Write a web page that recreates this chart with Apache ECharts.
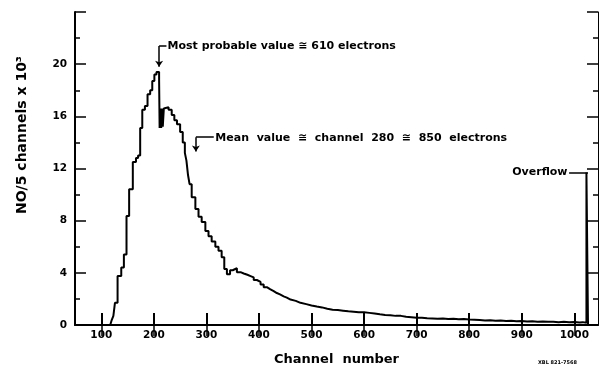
<!DOCTYPE html>
<html>
<head>
<meta charset="utf-8">
<script src="https://cdn.jsdelivr.net/npm/echarts@6/dist/echarts.min.js"></script>
<style>
  html, body { margin: 0; padding: 0; background: #fff; }
  #chart { width: 600px; height: 371px; }
</style>
</head>
<body>
<div id="chart"></div>
<script>
// bin start channel -> counts (NO/5 channels x 10^3)
const channels = [
  112, 117, 120, 123, 126, 131, 138, 143, 148, 153, 160, 166, 170, 174, 178, 183, 188, 193, 197, 201,
  205, 210, 211, 213, 214, 216, 217, 219, 222, 228, 234, 239, 244, 250, 255, 259, 262, 265, 268, 272,
  279, 285, 291, 298, 304, 310, 317, 323, 329, 334, 339, 345, 350, 358, 365, 371, 378, 384, 390, 396,
  403, 409, 415, 421, 428, 434, 440, 447, 453, 460, 470, 479, 490, 500, 510, 520, 530, 540, 550, 560,
  570, 580, 590, 600, 610, 620, 630, 640, 650, 660, 670, 680, 690, 700, 710, 720, 730, 740, 750, 760,
  770, 780, 790, 800, 810, 820, 830, 840, 850, 860, 870, 880, 890, 900, 910, 920, 930, 940, 950, 960,
  970, 980, 990, 1000, 1010, 1016, 1023, 1026, 1045
];
const counts = [
  0, 0.15, 0.4, 0.7, 1.7, 3.75, 4.4, 5.4, 8.35, 10.4, 12.5, 12.8, 13.0, 15.1, 16.5, 16.8, 17.7, 18.0, 18.7, 19.2,
  19.4, 18.8, 15.1, 16.6, 15.1, 16.6, 15.2, 16.6, 16.7, 16.5, 16.1, 15.7, 15.4, 14.8, 14.0, 13.2, 12.6, 11.5, 10.8, 9.8,
  8.9, 8.3, 7.9, 7.2, 6.8, 6.4, 6.0, 5.7, 5.2, 4.3, 3.9, 4.2, 4.35, 4.05, 3.95, 3.85, 3.75, 3.65, 3.45, 3.3,
  3.1, 2.9, 2.75, 2.6, 2.45, 2.35, 2.2, 2.1, 1.95, 1.85, 1.7, 1.6, 1.5, 1.42, 1.35, 1.25, 1.17, 1.15, 1.1, 1.05,
  1.02, 0.98, 0.98, 0.93, 0.88, 0.82, 0.77, 0.74, 0.7, 0.7, 0.64, 0.6, 0.55, 0.55, 0.52, 0.5, 0.48, 0.5, 0.46, 0.47,
  0.44, 0.46, 0.42, 0.4, 0.38, 0.35, 0.36, 0.33, 0.34, 0.3, 0.32, 0.29, 0.3, 0.27, 0.28, 0.25, 0.26, 0.24, 0.25, 0.22,
  0.24, 0.21, 0.23, 0.2, 0.22, 0.18, 11.7, 0, 0
];
const xTicks = [100, 200, 300, 400, 500, 600, 700, 800, 900, 1000];
const yLabels = [0, 4, 8, 12, 16, 20];

const mostProbable = { channel: 210, text: "Most probable value \u2245 610 electrons" };
const meanValue = { channel: 280, text: "Mean  value  \u2245  channel  280  \u2245  850  electrons" };
const overflow = { channel: 1024, level: 11.7, text: "Overflow" };

const font = "DejaVu Sans";
const ink = "#000";

const chart = echarts.init(document.getElementById("chart"));

const xBase = {
  type: "value",
  min: 50,
  max: 1045,
  splitLine: { show: false },
};
const yBase = {
  type: "value",
  min: 0,
  max: 24,
  interval: 4,
  splitLine: { show: false },
  minorTick: { show: true, splitNumber: 2, length: 5, lineStyle: { color: ink, width: 1.5 } },
};

chart.setOption({
  animation: false,
  grid: { left: 75, right: 2, top: 12, bottom: 45 },
  xAxis: [
    {
      ...xBase,
      position: "bottom",
      name: "Channel  number",
      nameLocation: "middle",
      nameGap: 28,
      nameTextStyle: { color: ink, fontFamily: font, fontWeight: "bold", fontSize: 13 },
      axisLine: { lineStyle: { color: ink, width: 2 } },
      axisTick: { inside: true, length: 12, customValues: xTicks, lineStyle: { color: ink, width: 2 } },
      axisLabel: {
        customValues: xTicks,
        formatter: (v) => String(v),
        margin: 5,
        color: ink,
        fontFamily: font,
        fontWeight: "bold",
        fontSize: 10.5,
      },
    },
    {
      ...xBase,
      position: "top",
      axisLine: { lineStyle: { color: ink, width: 1.5 } },
      axisTick: { inside: true, length: 11, customValues: xTicks, lineStyle: { color: ink, width: 1.5 } },
      axisLabel: { show: false },
    },
  ],
  yAxis: [
    {
      ...yBase,
      position: "left",
      axisLine: { lineStyle: { color: ink, width: 2 } },
      axisTick: { inside: true, length: 11, lineStyle: { color: ink, width: 1.5 } },
      axisLabel: {
        customValues: yLabels,
        formatter: (v) => String(v),
        margin: 8,
        color: ink,
        fontFamily: font,
        fontWeight: "bold",
        fontSize: 10.5,
      },
    },
    {
      ...yBase,
      position: "right",
      axisLine: { lineStyle: { color: ink, width: 1 } },
      axisTick: { inside: true, length: 11, lineStyle: { color: ink, width: 1.5 } },
      axisLabel: { show: false },
    },
  ],
  graphic: [
    {
      type: "text",
      x: 22,
      y: 135,
      rotation: Math.PI / 2,
      style: {
        text: "NO/5 channels x 10\u00b3",
        fill: ink,
        font: "bold 14px " + font,
        align: "center",
        verticalAlign: "middle",
      },
    },
    {
      type: "text",
      x: 538,
      y: 363,
      style: { text: "XBL 821-7568", fill: ink, font: "bold 5px " + font, verticalAlign: "middle" },
    },
  ],
  series: [
    {
      type: "line",
      step: "end",
      showSymbol: false,
      symbol: "none",
      silent: true,
      lineStyle: { color: ink, width: 2 },
      data: channels.map((c, i) => [c, counts[i]]),
      markLine: {
        silent: true,
        symbol: ["none", "none"],
        symbolSize: 6,
        label: { show: false },
        lineStyle: { color: ink, width: 1.5, type: "solid" },
        data: [
          [{ coord: [mostProbable.channel, 21.4] }, { coord: [mostProbable.channel + 14, 21.4] }],
          [{ coord: [mostProbable.channel, 21.4] }, { coord: [mostProbable.channel, 19.8], symbol: "arrow" }],
          [{ coord: [meanValue.channel, 14.4] }, { coord: [meanValue.channel + 34, 14.4] }],
          [{ coord: [meanValue.channel, 14.4] }, { coord: [meanValue.channel, 13.3], symbol: "arrow" }],
          [{ coord: [990, overflow.level] }, { coord: [overflow.channel + 2, overflow.level] }],
        ],
      },
      markPoint: {
        silent: true,
        symbol: "circle",
        symbolSize: 0,
        label: {
          show: true,
          color: ink,
          fontFamily: font,
          fontWeight: "bold",
          fontSize: 11,
          distance: 0,
        },
        data: [
          { coord: [mostProbable.channel + 16, 21.4], label: { position: "right", formatter: mostProbable.text } },
          { coord: [meanValue.channel + 37, 14.3], label: { position: "right", formatter: meanValue.text } },
          { coord: [987, overflow.level], label: { position: "left", formatter: overflow.text } },
        ],
      },
    },
  ],
});
</script>
</body>
</html>
